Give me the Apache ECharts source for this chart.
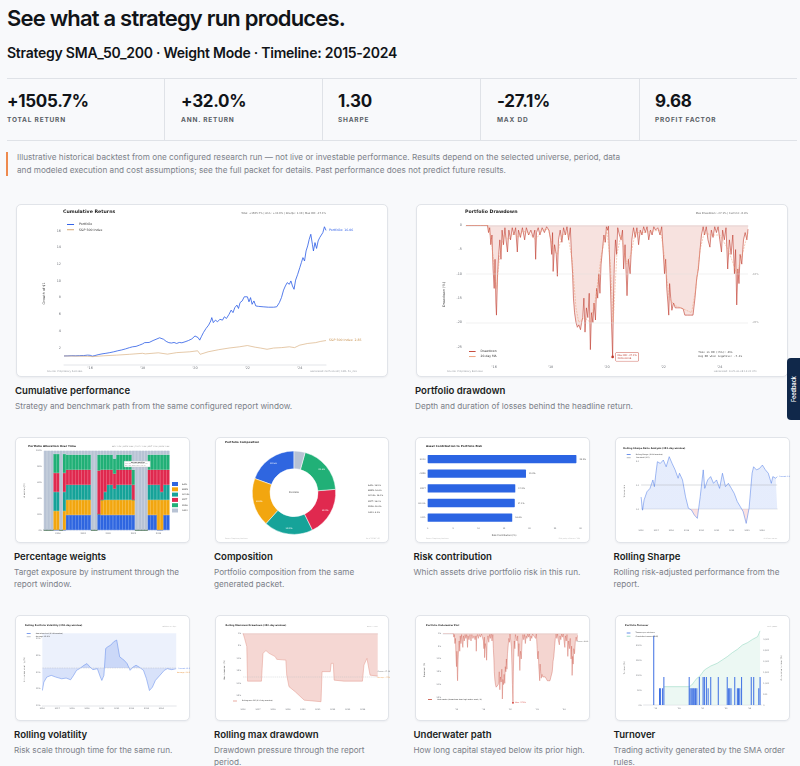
<!DOCTYPE html>
<html><head><meta charset="utf-8">
<script src="https://cdn.jsdelivr.net/npm/echarts@6/dist/echarts.min.js"></script>
<style>
html,body{margin:0;padding:0}
body{width:800px;height:766px;overflow:hidden;position:relative;background:#f8f9fb;font-family:Inter,'Noto Sans',sans-serif;color:#111418}
.a{position:absolute;white-space:nowrap}
.h1{left:7px;top:7px;font-size:22px;line-height:22px;font-weight:600;letter-spacing:-0.8px}
.h2{left:7px;top:46px;font-size:14px;line-height:14px;font-weight:600;letter-spacing:-0.25px}
.stats{left:7px;top:77.5px;width:790px;height:61px;border-top:1px solid #dfe2e7;border-bottom:1px solid #dfe2e7}
.v{position:absolute;top:14px;font-size:17px;line-height:17px;font-weight:700;letter-spacing:-0.3px;white-space:nowrap}
.l{position:absolute;top:38px;font-size:6.5px;line-height:7px;font-weight:700;letter-spacing:0.8px;color:#5a5f66;white-space:nowrap}
.dv{position:absolute;top:0;width:1px;height:61px;background:#dfe2e7}
.obar{left:5.5px;top:151.5px;width:2.5px;height:24.5px;background:#ee8a4e}
.disc{left:17px;top:151px;font-size:8.2px;line-height:12.7px;color:#7d828a;font-weight:400}
.card{position:absolute;box-sizing:border-box;background:#fff;border:1px solid #e1e4e9;border-radius:5px;box-shadow:0 1px 2px rgba(16,24,40,0.05)}
.ch{position:absolute;left:-1px;top:-1px}
.cap{position:absolute;font-size:9.6px;line-height:12px;font-weight:600;color:#1a1d21;white-space:nowrap}
.desc{position:absolute;font-size:8.2px;line-height:12px;color:#7b8088;white-space:nowrap}
.tab{left:787px;top:358px;width:13px;height:62px;background:#10284a;border-radius:4px 0 0 4px}
.tab span{position:absolute;left:6.5px;top:31px;transform:translate(-50%,-50%) rotate(-90deg);color:#fff;font-size:5.5px;white-space:nowrap;font-weight:600}
</style></head>
<body>
<div class="a h1">See what a strategy run produces.</div>
<div class="a h2">Strategy SMA_50_200 · Weight Mode · Timeline: 2015-2024</div>
<div class="a stats">
  <div class="v" style="left:0">+1505.7%</div><div class="l" style="left:0">TOTAL RETURN</div>
  <div class="dv" style="left:157px"></div>
  <div class="v" style="left:174px">+32.0%</div><div class="l" style="left:174px">ANN. RETURN</div>
  <div class="dv" style="left:315px"></div>
  <div class="v" style="left:331px">1.30</div><div class="l" style="left:331px">SHARPE</div>
  <div class="dv" style="left:473px"></div>
  <div class="v" style="left:490px">-27.1%</div><div class="l" style="left:490px">MAX DD</div>
  <div class="dv" style="left:632px"></div>
  <div class="v" style="left:648px">9.68</div><div class="l" style="left:648px">PROFIT FACTOR</div>
</div>
<div class="a obar"></div>
<div class="a disc">Illustrative historical backtest from one configured research run — not live or investable performance. Results depend on the selected universe, period, data<br>and modeled execution and cost assumptions; see the full packet for details. Past performance does not predict future results.</div>

<div class="card" style="left:16px;top:204px;width:372px;height:173px"><div class="ch" id="cA" style="width:372px;height:173px"></div></div>
<div class="card" style="left:416px;top:204px;width:372px;height:173px"><div class="ch" id="cB" style="width:372px;height:173px"></div></div>
<div class="cap" style="left:15px;top:384.7px">Cumulative performance</div>
<div class="desc" style="left:15px;top:399.7px">Strategy and benchmark path from the same configured report window.</div>
<div class="cap" style="left:415px;top:384.7px">Portfolio drawdown</div>
<div class="desc" style="left:415px;top:399.7px">Depth and duration of losses behind the headline return.</div>

<div class="card" style="left:15px;top:437px;width:174.5px;height:106px"><div class="ch" id="cC" style="width:174.5px;height:106px"></div></div>
<div class="card" style="left:214.5px;top:437px;width:174.5px;height:106px"><div class="ch" id="cD" style="width:174.5px;height:106px"></div></div>
<div class="card" style="left:415px;top:437px;width:174.5px;height:106px"><div class="ch" id="cE" style="width:174.5px;height:106px"></div></div>
<div class="card" style="left:615px;top:437px;width:174.5px;height:106px"><div class="ch" id="cF" style="width:174.5px;height:106px"></div></div>
<div class="cap" style="left:14px;top:550.7px">Percentage weights</div>
<div class="desc" style="left:14px;top:566.3px">Target exposure by instrument through the<br>report window.</div>
<div class="cap" style="left:214px;top:550.7px">Composition</div>
<div class="desc" style="left:214px;top:566.3px">Portfolio composition from the same<br>generated packet.</div>
<div class="cap" style="left:413.5px;top:550.7px">Risk contribution</div>
<div class="desc" style="left:413.5px;top:566.3px">Which assets drive portfolio risk in this run.</div>
<div class="cap" style="left:613.5px;top:550.7px">Rolling Sharpe</div>
<div class="desc" style="left:613.5px;top:566.3px">Rolling risk-adjusted performance from the<br>report.</div>

<div class="card" style="left:15px;top:615px;width:174.5px;height:106px"><div class="ch" id="cG" style="width:174.5px;height:106px"></div></div>
<div class="card" style="left:214.5px;top:615px;width:174.5px;height:106px"><div class="ch" id="cH" style="width:174.5px;height:106px"></div></div>
<div class="card" style="left:415px;top:615px;width:174.5px;height:106px"><div class="ch" id="cI" style="width:174.5px;height:106px"></div></div>
<div class="card" style="left:615px;top:615px;width:174.5px;height:106px"><div class="ch" id="cJ" style="width:174.5px;height:106px"></div></div>
<div class="cap" style="left:14px;top:728.5px">Rolling volatility</div>
<div class="desc" style="left:14px;top:744px">Risk scale through time for the same run.</div>
<div class="cap" style="left:214px;top:728.5px">Rolling max drawdown</div>
<div class="desc" style="left:214px;top:744px">Drawdown pressure through the report<br>period.</div>
<div class="cap" style="left:413.5px;top:728.5px">Underwater path</div>
<div class="desc" style="left:413.5px;top:744px">How long capital stayed below its prior high.</div>
<div class="cap" style="left:613.5px;top:728.5px">Turnover</div>
<div class="desc" style="left:613.5px;top:744px">Trading activity generated by the SMA order<br>rules.</div>

<div class="a tab"><span>Feedback</span></div>

<script>
// ---------------- DATA ----------------
// Cumulative returns (growth of $1)
const cumYears = [2015.00,2015.15,2015.30,2015.45,2015.60,2015.75,2015.90,2016.00,2016.08,2016.18,2016.30,2016.45,2016.60,2016.75,2016.90,2017.05,2017.20,2017.35,2017.50,2017.62,2017.75,2017.88,2018.00,2018.08,2018.15,2018.25,2018.40,2018.55,2018.65,2018.72,2018.80,2018.90,2019.00,2019.10,2019.20,2019.30,2019.40,2019.50,2019.62,2019.75,2019.88,2020.00,2020.06,2020.12,2020.18,2020.24,2020.32,2020.42,2020.52,2020.60,2020.64,2020.70,2020.78,2020.86,2020.95,2021.05,2021.12,2021.20,2021.30,2021.38,2021.45,2021.52,2021.60,2021.66,2021.72,2021.80,2021.88,2021.95,2022.00,2022.06,2022.12,2022.18,2022.25,2022.32,2022.42,2022.60,2022.80,2023.00,2023.12,2023.22,2023.30,2023.38,2023.45,2023.52,2023.60,2023.66,2023.72,2023.78,2023.84,2023.92,2024.00,2024.06,2024.12,2024.18,2024.24,2024.30,2024.36,2024.42,2024.48,2024.52,2024.58,2024.64,2024.70,2024.76,2024.82,2024.88,2024.94,2025.00];
const cumPortfolio = [1.00,1.01,1.03,1.02,1.04,1.05,1.10,1.08,0.98,1.05,1.15,1.25,1.32,1.40,1.50,1.62,1.72,1.85,2.00,2.10,2.15,2.30,2.45,2.60,2.45,2.62,2.85,3.05,3.18,3.20,3.00,2.75,2.60,2.55,2.62,2.50,2.62,2.58,2.70,2.85,3.05,3.40,3.55,3.20,2.90,3.30,3.80,4.30,4.70,5.20,5.60,5.00,5.30,5.10,5.40,5.30,5.70,5.50,6.00,6.50,6.20,6.80,7.10,6.70,7.40,7.60,8.10,8.30,8.10,7.50,8.00,7.20,7.60,7.00,6.95,6.90,6.85,6.85,6.90,7.40,8.00,8.90,9.40,9.80,9.60,10.00,9.40,9.00,10.10,10.80,11.60,12.20,12.80,12.40,13.60,14.20,15.00,15.60,14.40,13.60,14.60,13.90,14.80,15.20,15.00,15.80,16.50,16.06];
const spYears = [2015.0,2015.5,2015.9,2016.1,2016.5,2017.0,2017.5,2018.0,2018.1,2018.6,2018.95,2019.3,2019.8,2020.1,2020.2,2020.5,2020.9,2021.3,2021.7,2022.0,2022.3,2022.5,2022.75,2023.0,2023.3,2023.6,2023.8,2024.0,2024.3,2024.6,2024.8,2025.0];
const spValues = [1.00,0.98,0.96,0.92,1.02,1.10,1.20,1.32,1.25,1.38,1.22,1.40,1.50,1.62,1.20,1.50,1.75,1.95,2.10,2.25,2.05,1.95,1.80,1.95,2.00,2.10,2.00,2.30,2.50,2.60,2.75,2.85];

// Portfolio drawdown (%), [year, drawdown]
const drawdownSeries = [[2015.00,0],[2015.50,0],[2015.76,0],[2015.80,-1.5],[2015.84,-0.5],[2015.88,-4],[2015.92,-2],[2015.96,-9],[2016.00,-13],[2016.03,-7],[2016.06,-16],[2016.08,-18.5],[2016.12,-10],[2016.16,-6],[2016.20,-3],[2016.24,-7],[2016.28,-1],[2016.33,-4],[2016.38,-0.5],[2016.42,-3],[2016.47,-5.5],[2016.52,-1],[2016.58,-3],[2016.64,-0.5],[2016.70,-2],[2016.76,-0.5],[2016.82,-5.5],[2016.86,-1],[2016.93,-2.5],[2017.00,-0.5],[2017.08,-3],[2017.14,-0.5],[2017.22,-2],[2017.30,-1],[2017.38,-2.5],[2017.44,-1],[2017.47,-7],[2017.50,-1.5],[2017.56,-0.5],[2017.62,-2],[2017.70,-0.5],[2017.78,-1.5],[2017.86,-0.3],[2017.94,-1],[2018.00,-3],[2018.04,-6],[2018.07,-1.5],[2018.09,-9.5],[2018.14,-4],[2018.20,-6],[2018.24,-10.5],[2018.28,-3],[2018.34,-1],[2018.40,-3.5],[2018.46,-0.5],[2018.52,-2],[2018.58,-0.3],[2018.64,-3],[2018.70,-0.5],[2018.74,-6],[2018.78,-10],[2018.81,-15],[2018.85,-18],[2018.90,-20],[2018.95,-21],[2019.00,-20.5],[2019.06,-21.5],[2019.10,-20],[2019.14,-19],[2019.18,-15],[2019.22,-22],[2019.27,-17],[2019.32,-19],[2019.37,-14],[2019.41,-25.6],[2019.45,-18],[2019.50,-20],[2019.54,-16],[2019.59,-19.5],[2019.63,-13],[2019.67,-15],[2019.71,-10],[2019.75,-14],[2019.79,-8],[2019.84,-5],[2019.89,-2],[2019.94,-3.5],[2019.98,-0.3],[2020.02,-1],[2020.05,-0.2],[2020.08,-5],[2020.12,-12],[2020.16,-20],[2020.20,-27.1],[2020.23,-15],[2020.26,-8],[2020.30,-3],[2020.34,-6],[2020.38,-0.5],[2020.44,-2],[2020.50,-3],[2020.55,-1],[2020.59,-9],[2020.64,-4],[2020.71,-14.5],[2020.76,-7],[2020.82,-10],[2020.88,-3],[2020.94,-0.5],[2021.00,-2.5],[2021.06,-0.5],[2021.12,-4],[2021.18,-1],[2021.24,-2],[2021.30,-0.3],[2021.36,-1.5],[2021.42,-0.3],[2021.48,-3],[2021.54,-1],[2021.60,-2],[2021.66,-0.3],[2021.72,-1],[2021.80,-0.5],[2021.88,-2],[2021.94,-0.3],[2022.00,-6],[2022.04,-10],[2022.08,-7],[2022.12,-13],[2022.16,-16],[2022.19,-18.5],[2022.22,-12],[2022.26,-15],[2022.30,-17.5],[2022.36,-16],[2022.42,-17],[2022.50,-17],[2022.60,-17],[2022.70,-17.2],[2022.76,-18.5],[2022.85,-18.5],[2022.95,-18.5],[2023.05,-18.5],[2023.12,-15],[2023.18,-11],[2023.24,-9],[2023.30,-5],[2023.35,-2],[2023.41,-0.3],[2023.46,-2],[2023.52,-0.3],[2023.58,-3],[2023.65,-4.5],[2023.70,-1],[2023.76,-2.5],[2023.82,-0.3],[2023.88,-1.5],[2023.94,-0.3],[2024.00,-3],[2024.06,-5.5],[2024.10,-1],[2024.16,-3],[2024.22,-0.5],[2024.28,-9],[2024.34,-3],[2024.40,-6],[2024.46,-2],[2024.52,-10],[2024.56,-5],[2024.60,-16.4],[2024.64,-9],[2024.68,-12],[2024.72,-6],[2024.78,-8],[2024.84,-3],[2024.90,-1.5],[2024.96,-3],[2025.00,-0.8]];
const drawdownMA = [[2015.0,0],[2015.78,0],[2015.9,-3],[2016.0,-9],[2016.08,-13],[2016.2,-6],[2016.35,-2],[2016.5,-3],[2016.7,-1.5],[2016.85,-2.5],[2017.0,-1.2],[2017.2,-1.5],[2017.47,-3],[2017.7,-1],[2017.92,-0.8],[2018.1,-5],[2018.24,-6],[2018.4,-2],[2018.6,-1.5],[2018.76,-7],[2018.9,-17],[2019.0,-20],[2019.2,-19],[2019.41,-20],[2019.6,-15],[2019.8,-6],[2020.0,-1],[2020.12,-8],[2020.22,-20],[2020.35,-6],[2020.5,-2],[2020.7,-8],[2020.85,-6],[2021.0,-1.5],[2021.3,-1.5],[2021.6,-1.2],[2021.9,-1],[2022.05,-7],[2022.2,-15],[2022.4,-16.5],[2022.7,-17.2],[2023.0,-18],[2023.15,-13],[2023.3,-5],[2023.45,-1.5],[2023.7,-2],[2024.0,-2],[2024.3,-5],[2024.6,-10],[2024.75,-7],[2025.0,-1.5]];

// Allocation weights (%) by quarter
const allocQuarters = ['2015','2015.25','2015.5','2015.75','2016','2016.25','2016.5','2016.75','2017','2017.25','2017.5','2017.75','2018','2018.25','2018.5','2018.75','2019','2019.25','2019.5','2019.75','2020','2020.25','2020.5','2020.75','2021','2021.25','2021.5','2021.75','2022','2022.25','2022.5','2022.75','2023','2023.25','2023.5','2023.75','2024','2024.25','2024.5','2024.75'];
const allocAAPL  = [0,0,0,0,0,0,0,19,19,19,19,19,19,19,19,0,0,20,19,19,19,19,19,19,19,19,19,19,19,0,0,0,0,19,19,19,0,0,19,19];
const allocAMZN  = [0,0,0,24,24,0,24,19,19,19,19,19,19,19,19,0,0,0,19,19,19,19,19,19,19,19,19,19,19,0,0,0,0,19,19,19,38,38,19,19];
const allocGOOGL = [0,0,0,24,24,0,24,19,19,19,19,19,19,19,19,0,0,0,0,10,19,19,14,19,19,19,19,19,0,0,0,0,0,19,19,19,19,10,19,19];
const allocMSFT  = [0,0,0,24,24,0,24,19,19,19,19,19,19,19,19,0,0,55,38,28,19,19,19,19,19,19,19,19,19,0,0,0,0,19,19,19,19,28,19,19];
const allocNVDA  = [0,0,0,24,24,0,24,19,19,19,19,19,19,19,19,0,0,20,19,19,19,19,19,19,19,19,19,19,19,0,0,0,0,19,19,19,19,19,19,19];
const allocCASH  = [100,100,100,4,4,100,4,5,5,5,5,5,5,5,5,100,100,5,5,5,5,5,10,5,5,5,5,5,24,100,100,100,100,5,5,5,5,5,5,5];
const assetNames = ['AAPL','AMZN','GOOGL','MSFT','NVDA','CASH'];

// Composition (%)
const compAssets = ['AAPL','AMZN','GOOGL','MSFT','NVDA','CASH'];
const compValues = [19.5,18.8,19.0,19.0,19.4,4.3];

// Risk contribution (%)
const riskAssets = ['NVDA','AMZN','MSFT','GOOGL','AAPL'];
const riskValues = [29.2,19.3,17.2,17.1,16.6];

// Rolling Sharpe (252d)
const sharpeSeries = [[2016.00,0.50],[2016.10,-0.05],[2016.20,0.38],[2016.39,0.72],[2016.59,0.86],[2016.78,1.21],[2016.88,0.93],[2016.98,1.49],[2017.08,1.97],[2017.27,1.90],[2017.47,2.04],[2017.66,1.76],[2017.86,2.18],[2018.05,1.90],[2018.25,1.63],[2018.45,1.28],[2018.54,1.49],[2018.74,1.21],[2018.94,0.51],[2019.13,0.03],[2019.33,-0.04],[2019.52,-0.25],[2019.72,-0.39],[2019.91,0.51],[2020.11,1.63],[2020.21,0.86],[2020.40,1.21],[2020.60,1.35],[2020.79,1.07],[2020.99,1.21],[2021.19,0.86],[2021.38,1.49],[2021.58,0.93],[2021.77,1.07],[2021.97,0.86],[2022.16,0.65],[2022.36,0.31],[2022.56,0.10],[2022.75,-0.11],[2022.95,-0.60],[2023.14,0.03],[2023.34,1.49],[2023.44,1.76],[2023.63,1.63],[2023.83,1.69],[2024.02,1.83],[2024.22,1.63],[2024.41,1.49],[2024.61,1.07],[2024.71,1.35],[2024.90,1.28],[2025.00,1.35]];
const sharpeThreshold = [[2016,1.0],[2025,1.0]];

// Rolling volatility (%)
const volSeries = [[2016.0,14.5],[2016.1,17.0],[2016.3,18.5],[2016.6,19.0],[2016.9,18.5],[2017.3,18.0],[2017.6,18.2],[2017.9,17.7],[2018.1,19.0],[2018.3,20.5],[2018.5,21.0],[2018.8,22.0],[2019.0,22.5],[2019.2,21.5],[2019.4,20.7],[2019.7,21.0],[2019.9,18.5],[2020.0,17.5],[2020.14,19.0],[2020.26,27.0],[2020.4,27.5],[2020.6,28.0],[2020.8,29.0],[2021.0,29.5],[2021.1,29.2],[2021.2,24.5],[2021.5,23.5],[2021.7,22.5],[2021.9,20.5],[2022.1,21.5],[2022.3,22.0],[2022.5,21.5],[2022.8,20.5],[2023.0,18.0],[2023.2,14.5],[2023.3,14.0],[2023.4,15.5],[2023.6,17.5],[2023.9,19.0],[2024.2,20.5],[2024.4,21.0],[2024.7,20.7],[2025.0,21.0]];
const volAverage = [[2016,21.2],[2025,21.2]];

// Rolling max drawdown (%)
const rollingMDD = [[2016.00,0],[2016.10,-2.0],[2016.25,-5.3],[2016.30,-19.1],[2017.23,-19.1],[2017.33,-8.0],[2017.53,-6.9],[2017.74,-8.0],[2018.15,-9.3],[2018.25,-10.4],[2018.86,-10.7],[2018.92,-16.7],[2019.07,-21.3],[2019.48,-23.3],[2020.09,-26.7],[2020.15,-27.3],[2021.21,-27.3],[2021.28,-15.3],[2021.83,-15.3],[2021.89,-12.0],[2022.03,-12.0],[2022.09,-18.7],[2022.75,-19.1],[2023.98,-19.1],[2024.08,-12.7],[2024.28,-10.0],[2024.38,-10.7],[2024.49,-16.7],[2025.00,-17.1]];

// Turnover (%)
const turnoverEvents = [[2015.86,233],[2016.35,56],[2016.44,56],[2016.61,56],[2016.72,94],[2018.87,94],[2018.94,56],[2019.04,56],[2019.13,56],[2019.22,56],[2019.30,56],[2019.41,56],[2019.52,56],[2019.73,94],[2020.05,94],[2020.16,94],[2020.33,94],[2020.48,56],[2020.70,94],[2021.34,94],[2022.10,94],[2022.20,56],[2022.31,56],[2022.42,56],[2022.74,94],[2022.96,56],[2023.06,56],[2023.17,56],[2023.32,94],[2024.14,94],[2024.35,94],[2024.78,56],[2024.89,94]];
const cumTurnover = [[2016.72,839],[2018.87,839],[2019.09,915],[2019.30,1067],[2019.52,1220],[2019.73,1296],[2019.95,1448],[2020.16,1601],[2020.38,1677],[2020.70,1784],[2021.24,1906],[2021.67,2058],[2022.10,2211],[2022.53,2394],[2022.96,2546],[2023.39,2744],[2023.82,2851],[2024.25,3004],[2024.68,3126],[2024.89,3400]];

// ---------------- HELPERS ----------------
const FF = "'DejaVu Sans', sans-serif";
const GRAY = '#6b6f76';
const COLORS = ['#2f66e0','#f2a60f','#16a399','#e0294f','#21b077','#b8c3d4'];
const zip = (a, b) => a.map((x, i) => [x, b[i]]);
const neg = arr => arr.map(p => [p[0], -p[1]]);
const yrApos = v => (v % 2 === 0 ? "'" + String(v).slice(2) : '');
const yrAll = v => (v < 2025 ? String(v) : '');
function T(pos, text, fs, st) {
  return Object.assign({ type: 'text', z: 100, silent: true }, pos, {
    style: Object.assign({ text: text, fontSize: fs, fill: '#222', fontFamily: FF }, st || {})
  });
}
function xYears(min, max, fs, fmt) {
  return { type: 'value', min: min, max: max, interval: 1,
    axisLine: { lineStyle: { color: '#b9bdc4', width: 0.4 } }, axisTick: { show: false }, splitLine: { show: false },
    axisLabel: { fontSize: fs, color: GRAY, margin: 2, fontFamily: FF, formatter: fmt } };
}
function yVal(o) {
  return Object.assign({ type: 'value', axisLine: { show: false }, axisTick: { show: false }, splitLine: { show: false },
    nameLocation: 'middle', nameTextStyle: { fontSize: o.fs, color: '#444', fontFamily: FF } }, o.ax, {
    axisLabel: Object.assign({ fontSize: o.fs, color: GRAY, margin: 2, fontFamily: FF }, o.lab || {}) });
}
function legend(pos, fs, extra) {
  return Object.assign({ orient: 'vertical', icon: 'rect', itemWidth: fs * 2.2, itemHeight: Math.max(0.8, fs * 0.3), itemGap: fs * 0.7, padding: 0,
    textStyle: { fontSize: fs, color: '#333', fontFamily: FF } }, pos, extra || {});
}
const mk = id => echarts.init(document.getElementById(id), null, { renderer: 'canvas' });
function safe(fn) { try { fn(); } catch (e) { console.error(e); } }

// ---------------- A: Cumulative returns ----------------
safe(() => mk('cA').setOption({
  animation: false,
  grid: { left: 48, right: 62, top: 18.6, bottom: 12.7 },
  legend: legend({ left: 51, top: 19 }, 3.2),
  xAxis: xYears(2015, 2025, 3.4, yrApos),
  yAxis: yVal({ fs: 3.4, ax: { min: 0, max: 17, interval: 2, name: 'Growth of $1', nameGap: 11 }, lab: { margin: 3, showMinLabel: false, showMaxLabel: false } }),
  series: [
    { name: 'Portfolio', type: 'line', data: zip(cumYears, cumPortfolio), symbol: 'none', color: '#2b5ce6', lineStyle: { width: 0.8 },
      endLabel: { show: true, formatter: 'Portfolio: 16.06', fontSize: 3.2, color: '#2b5ce6', distance: 3, fontFamily: FF } },
    { name: 'S&P 500 Index', type: 'line', data: zip(spYears, spValues), symbol: 'none', color: '#d4a46e', lineStyle: { width: 0.6 },
      endLabel: { show: true, formatter: 'S&P 500 Index: 2.85', fontSize: 3.2, color: '#c8914f', distance: 3, fontFamily: FF } }
  ],
  graphic: [
    T({ left: 47, top: 5.5 }, 'Cumulative Returns', 4.7, { fontWeight: 'bold', fill: '#1e1e1e' }),
    T({ right: 62, top: 7.5 }, 'Total: +1505.7% | Ann.: +32.0% | Sharpe: 1.30 | Max DD: -27.1%', 2.6, { fill: '#666' }),
    T({ left: 31, top: 165.5 }, 'Source: Proprietary backtest', 2.5, { fill: '#a0a4aa' }),
    T({ right: 31, top: 165.5 }, 'Generated 2025-06-08 | SMA_50_200', 2.5, { fill: '#a0a4aa' })
  ]
}));

// ---------------- B: Portfolio drawdown ----------------
safe(() => mk('cB').setOption({
  animation: false,
  grid: { left: 50, right: 40, top: 21.3, bottom: 13.3 },
  legend: legend({ left: 53, top: 146 }, 3.0),
  xAxis: xYears(2015, 2025, 3.4, yrApos),
  yAxis: yVal({ fs: 3.4, ax: { inverse: true, min: 0, max: 28.5, interval: 5, name: 'Drawdown (%)', nameGap: 12 },
    lab: { margin: 4, showMaxLabel: false, formatter: v => (v === 0 ? '0' : '-' + v) } }),
  series: [
    { name: 'Drawdown', type: 'line', data: neg(drawdownSeries), symbol: 'none', color: '#c0392b', lineStyle: { width: 0.6 },
      areaStyle: { color: '#eebfb8', opacity: 0.45 },
      markLine: { silent: true, symbol: 'none', lineStyle: { color: '#d9d9d9', width: 0.4, type: 'solid' },
        label: { position: 'end', fontSize: 2.6, color: '#999', distance: 4, fontFamily: FF, formatter: p => '-' + p.value + '%' },
        data: [{ yAxis: 10 }, { yAxis: 20 }] },
      markPoint: { symbol: 'circle', symbolSize: 2.6, itemStyle: { color: '#c0392b' },
        label: { show: true, position: 'right', distance: 2, fontSize: 2.4, lineHeight: 3, color: '#c0392b', backgroundColor: '#fff',
          borderColor: '#c0392b', borderWidth: 0.4, padding: [1, 1.5], fontFamily: FF, formatter: 'Max DD: -27.1%\n2020-03-16' },
        data: [{ coord: [2020.20, 27.1] }] } },
    { name: '20-day MA', type: 'line', data: neg(drawdownMA), symbol: 'none', color: '#ec9a72', lineStyle: { width: 0.5, type: 'dashed' } }
  ],
  graphic: [
    T({ left: 49, top: 5.5 }, 'Portfolio Drawdown', 4.7, { fontWeight: 'bold', fill: '#1e1e1e' }),
    T({ right: 40, top: 7.5 }, 'Max Drawdown: -27.1% | Current: -0.8%', 2.6, { fill: '#666' }),
    T({ right: 46, top: 147 }, 'Time in DD (>5%): 43%\nAvg DD when negative: -7.1%', 2.7, { fill: '#444', align: 'right', fontFamily: "'DejaVu Sans Mono', monospace", lineHeight: 3.6 }),
    T({ left: 31, top: 165.5 }, 'Source: Proprietary Backtest', 2.5, { fill: '#a0a4aa' }),
    T({ right: 31, top: 165.5 }, 'Generated: 2025-06-08 14:32 UTC', 2.5, { fill: '#a0a4aa' })
  ]
}));

// ---------------- C: Allocation over time ----------------
const allocArrays = [allocAAPL, allocAMZN, allocGOOGL, allocMSFT, allocNVDA, allocCASH];
safe(() => mk('cC').setOption({
  animation: false,
  grid: { left: 13.3, right: 20.5, top: 13.7, bottom: 13 },
  legend: legend({ left: 157, top: 45 }, 2.0, { itemWidth: 4, itemHeight: 2, itemGap: 1.3 }),
  xAxis: { type: 'category', data: allocQuarters, boundaryGap: true,
    axisLine: { lineStyle: { color: '#b9bdc4', width: 0.4 } }, axisTick: { show: false },
    axisLabel: { fontSize: 2.1, color: GRAY, margin: 2, fontFamily: FF, interval: 0, formatter: v => (Number(v) % 2 === 0 ? v : '') } },
  yAxis: yVal({ fs: 2.1, ax: { min: 0, max: 100, interval: 20, name: 'Allocation (%)', nameGap: 7 }, lab: { formatter: '{value}%' } }),
  series: assetNames.map((n, i) => ({ name: n, type: 'bar', stack: 'w', barCategoryGap: '0%', barWidth: '100%', color: COLORS[i],
    itemStyle: { borderColor: COLORS[i], borderWidth: 0.5 },
    data: allocArrays[i] })),
  graphic: [
    T({ left: 13.3, top: 8 }, 'Portfolio Allocation Over Time', 2.8, { fontWeight: 'bold' }),
    T({ right: 20.5, top: 9 }, 'AAPL 19.5% | AMZN 18.8% | GOOGL 19.0% | MSFT 19.0% | NVDA 19.4%', 1.6, { fill: '#888' }),
    { type: 'rect', left: 109, top: 24, shape: { width: 26, height: 5.8 }, style: { fill: '#fff', stroke: '#bbb', lineWidth: 0.3 }, z: 99 },
    T({ left: 116, top: 24.4 }, 'Current position', 1.5, { fontWeight: 'bold' }),
    T({ left: 110, top: 26.4 }, 'AAPL 19% · AMZN 19% · GOOGL 19%\nMSFT 19% · NVDA 19% · CASH 5%', 1.2, { fill: '#555', lineHeight: 1.5 })
  ]
}));

// ---------------- D: Composition ----------------
safe(() => mk('cD').setOption({
  animation: false,
  legend: legend({ left: 143, top: 46 }, 2.0, { itemWidth: 4, itemHeight: 2, itemGap: 1.4,
    formatter: n => n + ': ' + compValues[compAssets.indexOf(n)].toFixed(1) + '%' }),
  series: [{ type: 'pie', radius: [24, 41.7], center: [79, 55.7], clockwise: false, startAngle: 90,
    itemStyle: { borderColor: '#fff', borderWidth: 0.5 },
    label: { position: 'inside', fontSize: 2.2, color: '#fff', fontFamily: FF, formatter: p => (p.value < 5 ? '' : p.value.toFixed(1) + '%') },
    labelLine: { show: false },
    data: compAssets.map((n, i) => ({ name: n, value: compValues[i], itemStyle: { color: COLORS[i] } })) }],
  graphic: [
    T({ left: 10, top: 3.5 }, 'Portfolio Composition', 2.8, { fontWeight: 'bold' }),
    T({ x: 79, y: 55.7 }, 'Portfolio', 2.4, { align: 'center', verticalAlign: 'middle', fill: '#333' }),
    T({ left: 10, top: 101 }, 'Source: Proprietary backtest', 1.6, { fill: '#aaa' }),
    T({ right: 10, top: 101 }, 'As of 2024-12-31', 1.6, { fill: '#aaa' })
  ]
}));

// ---------------- E: Risk contribution ----------------
safe(() => mk('cE').setOption({
  animation: false,
  grid: { left: 11, right: 9.5, top: 14.7, bottom: 18 },
  xAxis: { type: 'value', min: 0, max: 30, interval: 5, axisLine: { lineStyle: { color: '#c3c7cd', width: 0.4 } }, axisTick: { show: false }, splitLine: { show: false },
    axisLabel: { fontSize: 2.1, color: GRAY, margin: 2, fontFamily: FF },
    name: 'Risk Contribution (%)', nameLocation: 'middle', nameGap: 5.5, nameTextStyle: { fontSize: 2.3, color: '#444', fontFamily: FF } },
  yAxis: { type: 'category', inverse: true, data: riskAssets, axisLine: { show: false }, axisTick: { show: false },
    axisLabel: { fontSize: 2.1, color: GRAY, margin: 2, fontFamily: FF } },
  series: [{ type: 'bar', data: riskValues, barWidth: 8.3, itemStyle: { color: '#2b64e3', borderRadius: 0.6 },
    label: { show: true, position: 'right', distance: 3, fontSize: 2.1, color: '#555', fontFamily: FF, formatter: '{c}%' } }],
  graphic: [
    T({ left: 11, top: 8 }, 'Asset Contribution to Portfolio Risk', 2.8, { fontWeight: 'bold' }),
    T({ left: 11, top: 101 }, 'Source: Proprietary backtest', 1.6, { fill: '#aaa' }),
    T({ right: 10, top: 101 }, 'Risk parity reference: 20%', 1.6, { fill: '#aaa' })
  ]
}));

// ---------------- F: Rolling Sharpe ----------------
const SH = { h: 106, top: 18, bottom: 16, min: -0.75, max: 2.25 };
const zeroOff = (SH.top + (SH.max / (SH.max - SH.min)) * (SH.h - SH.top - SH.bottom)) / SH.h;
safe(() => mk('cF').setOption({
  animation: false,
  grid: { left: 8.3, right: 12.8, top: SH.top, bottom: SH.bottom },
  legend: legend({ left: 11.7, top: 16.5 }, 1.8, { data: ['Rolling Sharpe (252d window)', 'Threshold (1.0)'] }),
  xAxis: xYears(2016, 2025, 2.0, yrAll),
  yAxis: yVal({ fs: 2.0, ax: { min: SH.min, max: SH.max, interval: 0.25, name: 'Sharpe ratio', nameGap: 5 },
    lab: { formatter: v => (Number.isInteger(v) ? v.toFixed(1) : '') } }),
  series: [
    { name: 'fill', type: 'line', z: 1, data: sharpeSeries, symbol: 'none', silent: true, lineStyle: { width: 0, opacity: 0 },
      areaStyle: { origin: 0, opacity: 0.3, color: new echarts.graphic.LinearGradient(0, 0, 0, SH.h,
        [{ offset: 0, color: '#a9c0f5' }, { offset: zeroOff, color: '#a9c0f5' }, { offset: zeroOff, color: '#f29d9d' }, { offset: 1, color: '#f29d9d' }], true) } },
    { name: 'Threshold (1.0)', type: 'line', z: 2, data: sharpeThreshold, symbol: 'none', color: '#a5a9ae', lineStyle: { width: 0.4 } },
    { name: 'Rolling Sharpe (252d window)', type: 'line', z: 3, data: sharpeSeries, symbol: 'none', color: '#4a78e6', lineStyle: { width: 0.5 },
      endLabel: { show: true, formatter: 'Current: 1.35', fontSize: 1.8, color: '#4a78e6', distance: 2, fontFamily: FF } }
  ],
  graphic: [
    T({ left: 8.3, top: 10.5 }, 'Rolling Sharpe Ratio Analysis (252-day window)', 2.3, { fontWeight: 'bold' }),
    T({ right: 12.8, top: 101 }, 'Risk-free rate: 0%', 1.5, { fill: '#aaa' })
  ]
}));

// ---------------- G: Rolling volatility ----------------
safe(() => mk('cG').setOption({
  animation: false,
  grid: { left: 10, right: 13.8, top: 18.3, bottom: 15.3 },
  legend: legend({ left: 11.7, top: 17.5 }, 1.8),
  xAxis: xYears(2016, 2025, 2.0, yrAll),
  yAxis: yVal({ fs: 2.0, ax: { min: 10, max: 31.5, interval: 5, name: 'Annualized volatility (%)', nameGap: 6 },
    lab: { showMaxLabel: false, formatter: '{value}%' } }),
  series: [
    { name: 'Annualized vol (252d window)', type: 'line', data: volSeries, symbol: 'none', color: '#5d86ea', lineStyle: { width: 0.5 },
      areaStyle: { origin: 21.2, color: '#7d9ef0', opacity: 0.3 },
      markArea: { silent: true, itemStyle: { color: '#e9effc', opacity: 0.85 }, data: [[{ yAxis: 21.2 }, { yAxis: 31.5 }]] },
      endLabel: { show: true, formatter: 'Current: 21.0%', fontSize: 1.8, color: '#5d86ea', distance: 2, fontFamily: FF } },
    { name: 'Average: 21.2%', type: 'line', data: volAverage, symbol: 'none', color: '#b5b9bf', lineStyle: { width: 0.4, type: 'dashed' } }
  ],
  graphic: [
    T({ left: 10, top: 9.8 }, 'Rolling Portfolio Volatility (252-day window)', 2.3, { fontWeight: 'bold' }),
    T({ left: 162, top: 56.5 }, 'Average: 21.2%', 1.8, { fill: '#e8913a' }),
    T({ right: 13.8, top: 10.3 }, 'Window: 252 days', 1.5, { fill: '#999' })
  ]
}));

// ---------------- H: Rolling max drawdown ----------------
safe(() => mk('cH').setOption({
  animation: false,
  grid: { left: 15.5, right: 12.3, top: 18.3, bottom: 14.3 },
  legend: legend({ left: 18, top: 85 }, 1.8),
  xAxis: xYears(2016, 2025, 2.0, yrAll),
  yAxis: yVal({ fs: 2.0, ax: { inverse: true, min: 0, max: 29.3, interval: 5, name: 'Max drawdown (%)', nameGap: 9 },
    lab: { showMaxLabel: false, formatter: v => (v === 0 ? '0%' : '-' + v + '%') } }),
  series: [
    { name: 'Rolling max DD (252-day window)', type: 'line', data: neg(rollingMDD), symbol: 'none', color: '#e3968b', lineStyle: { width: 0.5 },
      areaStyle: { color: '#f1c6c0', opacity: 0.7 },
      markLine: { silent: true, symbol: 'none', lineStyle: { color: '#b7bbc0', width: 0.35, type: 'dashed' }, label: { show: false }, data: [{ yAxis: 17.3 }] } }
  ],
  graphic: [
    T({ left: 10.5, top: 9.8 }, 'Rolling Maximum Drawdown (252-day window)', 2.3, { fontWeight: 'bold' }),
    T({ left: 162.5, top: 55.5 }, 'Current: -17.1%', 1.6, { fill: '#444' }),
    T({ left: 162.5, top: 61.5 }, 'Average: -17.3%', 1.6, { fill: '#e8913a' }),
    T({ right: 12.3, top: 10.3 }, 'Worst: -27.3%', 1.5, { fill: '#999' })
  ]
}));

// ---------------- I: Underwater ----------------
safe(() => mk('cI').setOption({
  animation: false,
  grid: { left: 10.5, right: 12.5, top: 18.3, bottom: 14.3 },
  legend: legend({ left: 13, top: 83.5 }, 1.8),
  xAxis: xYears(2015, 2025, 2.0, yrApos),
  yAxis: yVal({ fs: 2.0, ax: { inverse: true, min: 0, max: 28.6, interval: 5, name: 'Drawdown (%)', nameGap: 7 },
    lab: { showMaxLabel: false, formatter: v => (v === 0 ? '0%' : '-' + v + '%') } }),
  series: [
    { name: 'Underwater (drawdown from high-water mark, %)', type: 'line', data: neg(drawdownSeries), symbol: 'none', color: '#c94b3d', lineStyle: { width: 0.35 },
      areaStyle: { color: '#efc3bc', opacity: 0.7 },
      markPoint: { symbol: 'circle', symbolSize: 1.8, itemStyle: { color: '#d0332a' },
        label: { show: true, position: 'right', distance: 1.5, fontSize: 1.7, color: '#d0332a', fontFamily: FF, formatter: 'Max: -27.1%' },
        data: [{ coord: [2020.20, 27.1] }] } }
  ],
  graphic: [
    T({ left: 11, top: 9.8 }, 'Portfolio Underwater Plot', 2.3, { fontWeight: 'bold' }),
    T({ left: 161.5, top: 25.5 }, 'Current: -0.8%', 1.6, { fill: '#444' })
  ]
}));

// ---------------- J: Turnover ----------------
safe(() => mk('cJ').setOption({
  animation: false,
  grid: { left: 8.3, right: 11.2, top: 15.7, bottom: 16 },
  legend: legend({ left: 11.7, top: 17 }, 1.7),
  xAxis: xYears(2015, 2025, 2.0, yrApos),
  yAxis: [
    yVal({ fs: 2.0, ax: { min: 0, max: 250, interval: 50, name: 'Turnover (%)', nameGap: 6 }, lab: { showMaxLabel: false, formatter: '{value}%' } }),
    yVal({ fs: 2.0, ax: { min: 0, max: 3400, interval: 500, position: 'right', name: 'Cumulative turnover (%)', nameGap: 7 }, lab: { showMaxLabel: false } })
  ],
  series: [
    { name: 'Turnover per rebalance', type: 'bar', z: 3, data: turnoverEvents, barWidth: 1, itemStyle: { color: '#3d6fe3' } },
    { name: 'Cumulative turnover (RHS)', type: 'line', z: 1, yAxisIndex: 1, data: cumTurnover, symbol: 'none', color: '#86d3b9', lineStyle: { width: 0.5 },
      areaStyle: { color: '#dcf2ea', opacity: 0.55 } }
  ],
  graphic: [
    T({ left: 10, top: 9.8 }, 'Portfolio Turnover', 2.3, { fontWeight: 'bold' }),
    T({ right: 12.8, top: 10.3 }, 'Total: 3,400%', 1.5, { fill: '#999' })
  ]
}));
</script>
</body></html>
